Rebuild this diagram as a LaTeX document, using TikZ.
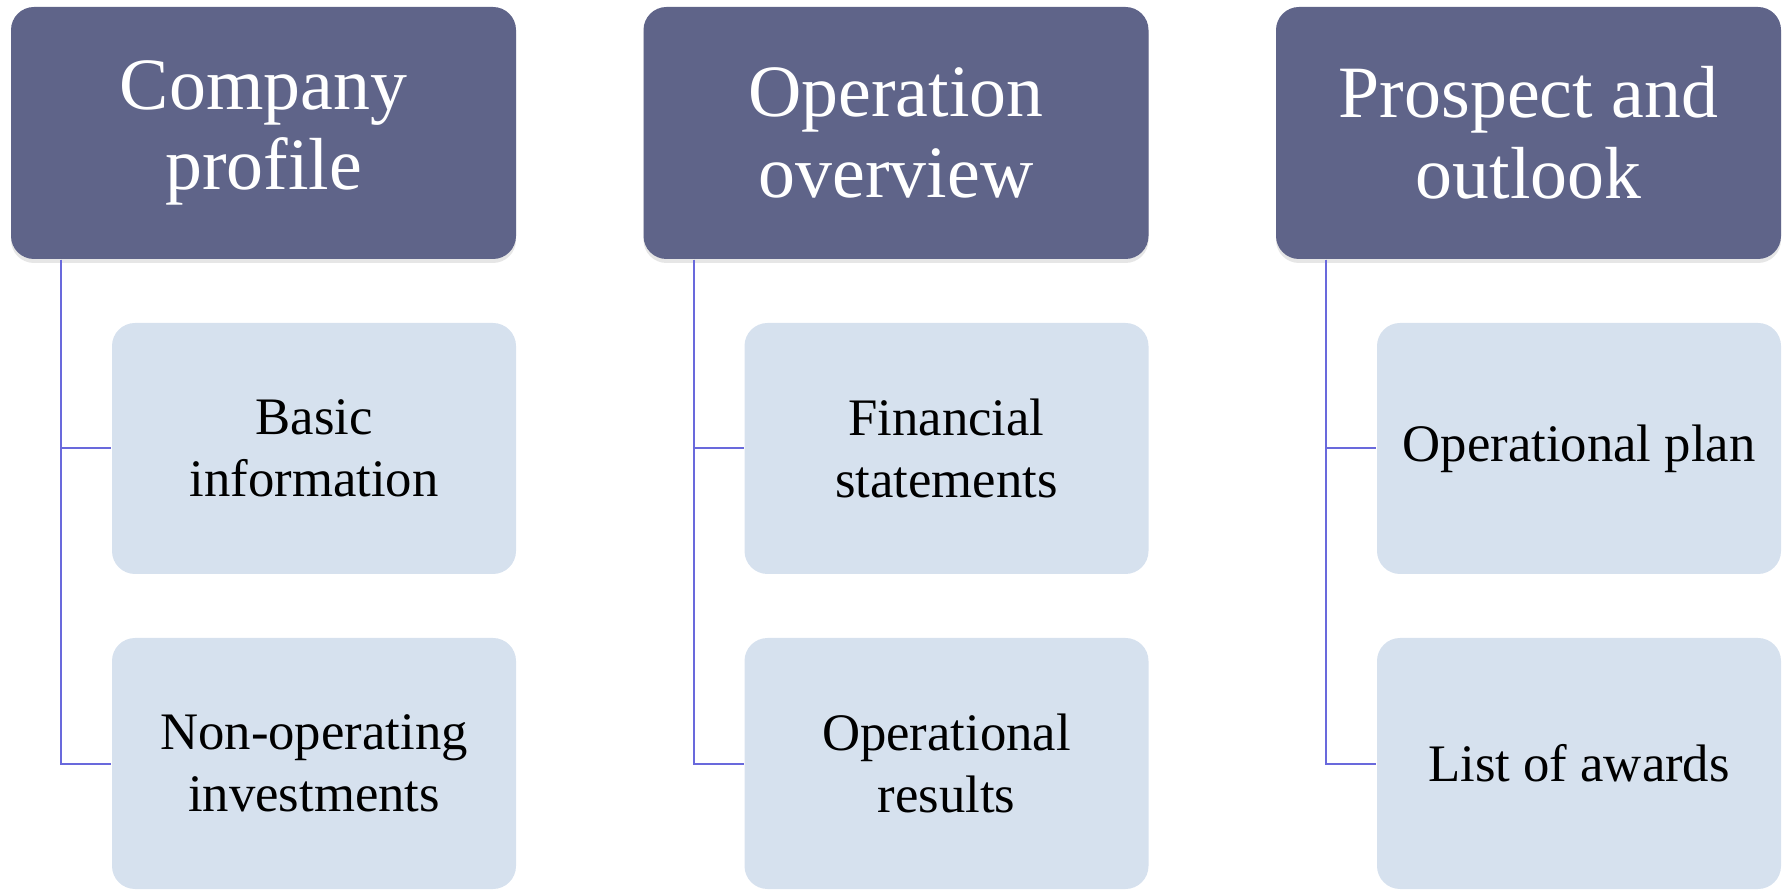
\documentclass[tikz,border=0pt]{standalone}
\usepackage{fontspec}
\setmainfont{Liberation Serif}
\usetikzlibrary{shadows}

\definecolor{headfill}{RGB}{95,100,137}
\definecolor{itemfill}{RGB}{214,225,238}
\definecolor{linkline}{RGB}{105,105,220}

\begin{document}
\begin{tikzpicture}[
    head/.style={
        rounded corners=2.3mm,
        minimum width=50.5mm, minimum height=25.2mm,
        align=center, fill=headfill, text=white,
        font=\fontsize{21}{23}\selectfont,
        drop shadow={opacity=0.2, shadow xshift=0mm, shadow yshift=-0.4mm}
    },
    item/.style={
        rounded corners=2.3mm,
        minimum width=40.4mm, minimum height=25.1mm,
        align=center, fill=itemfill,
        font=\fontsize{15}{17.5}\selectfont
    },
    link/.style={draw=linkline, line width=0.2mm}
]
\useasboundingbox (0mm,0mm) rectangle (178.7mm,88.9mm);

% ----------------------------------------------------------
% Three columns: heading box, two entries, bracket line
% ----------------------------------------------------------
\foreach \i/\htxt/\atxt/\btxt in {
    0/{Company\\profile}/{Basic\\information}/{Non-operating\\investments},
    1/{Operation\\overview}/{Financial\\statements}/{Operational\\results},
    2/{Prospect and\\outlook}/{Operational plan}/{List of awards}} {
    \node[head] (h\i) at ({26.35mm + \i*63.25mm}, 75.6mm) {\htxt};
    \node[item] (a\i) at ({31.4mm + \i*63.25mm}, 44.05mm) {\atxt};
    \node[item] (b\i) at ({31.4mm + \i*63.25mm}, 12.55mm) {\btxt};

    % bracket from heading down to each entry
    \draw[link] ([xshift=5.1mm]h\i.south west) |- (a\i.west);
    \draw[link] ([xshift=5.1mm]h\i.south west) |- (b\i.west);
}

\end{tikzpicture}
\end{document}
